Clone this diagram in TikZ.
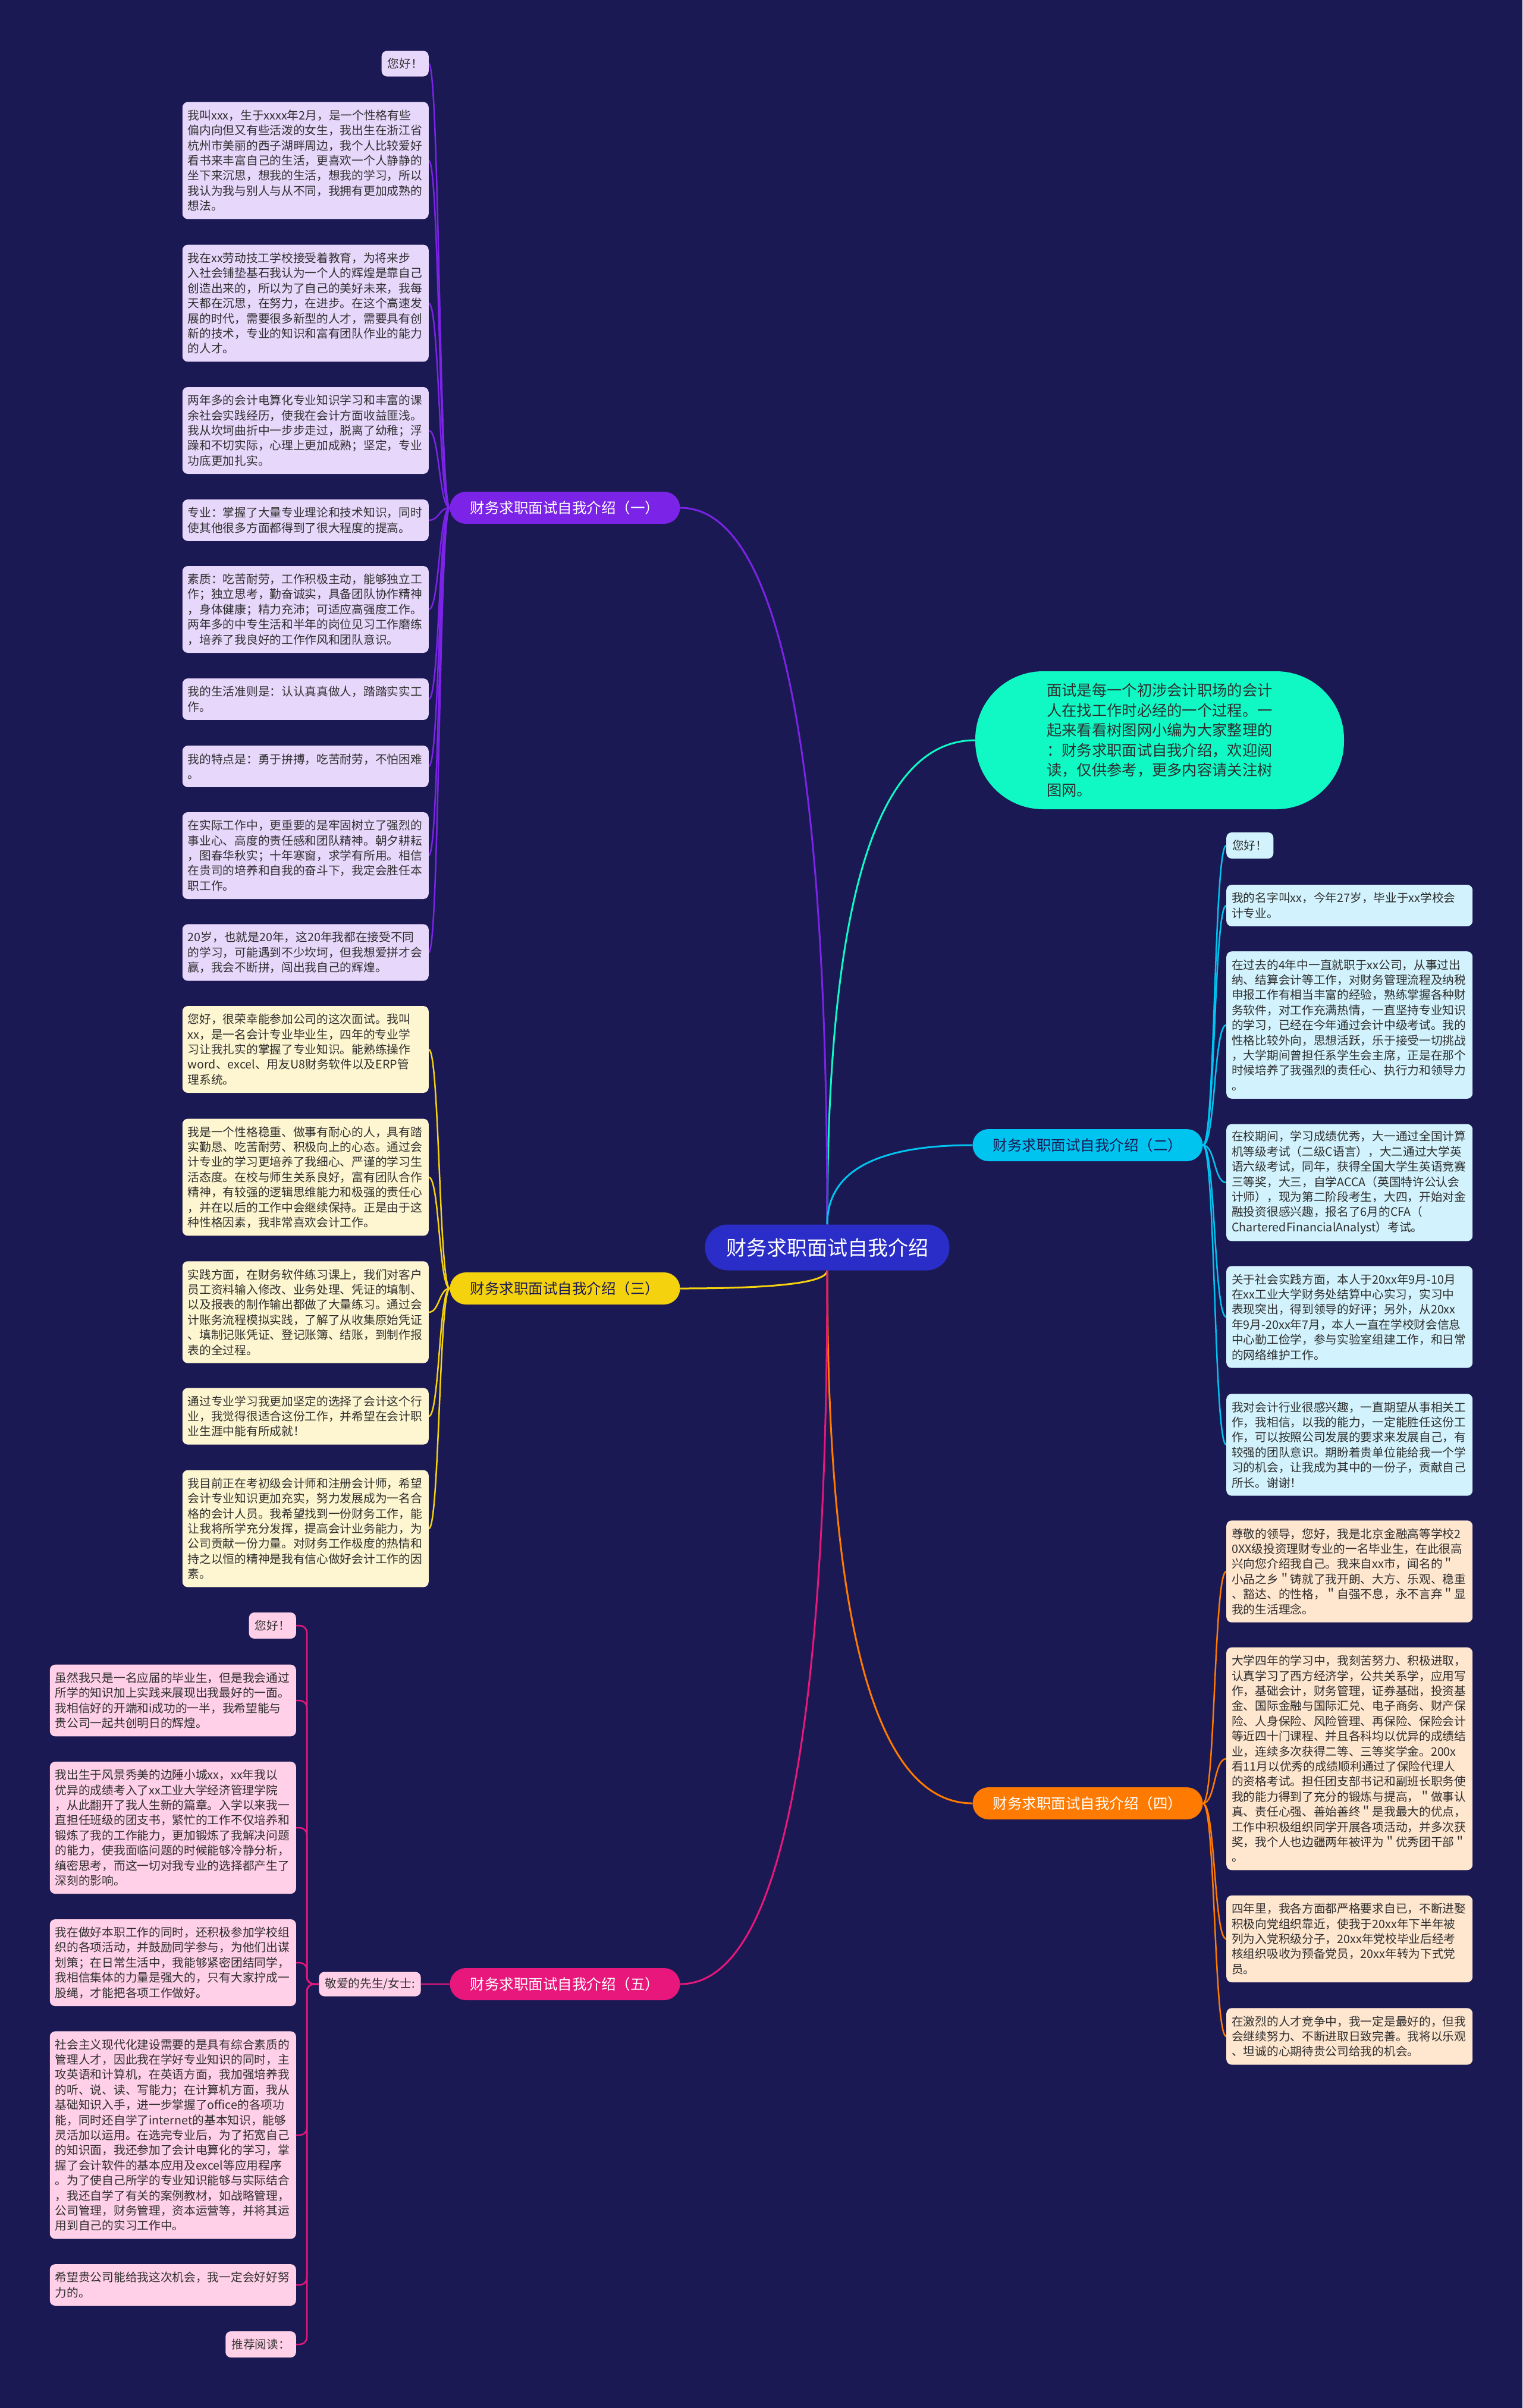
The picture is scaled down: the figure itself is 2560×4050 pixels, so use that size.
\documentclass[tikz,border=0pt]{standalone}
\usepackage{fontspec}
\setmainfont{Noto Sans CJK SC}
\usetikzlibrary{calc}
\pgfdeclarelayer{bgl}
\pgfdeclarelayer{lnl}
\pgfsetlayers{bgl,lnl,main}
\definecolor{bgc}{HTML}{1B1953}
\definecolor{ctrc}{HTML}{2A2DC8}
\definecolor{introc}{HTML}{10F9C5}
\definecolor{ca}{HTML}{7B23E6}
\definecolor{la}{HTML}{E7D7FB}
\definecolor{cb}{HTML}{00C4F0}
\definecolor{lb}{HTML}{D2F3FD}
\definecolor{cc}{HTML}{F5D20E}
\definecolor{lc}{HTML}{FEF6D0}
\definecolor{cd}{HTML}{FF7A00}
\definecolor{ld}{HTML}{FFE6CF}
\definecolor{ce}{HTML}{E8177B}
\definecolor{le}{HTML}{FFD0E7}
\definecolor{txt}{HTML}{2E2E2E}
\definecolor{darktxt}{HTML}{1B1953}
\newcommand\lfnt{\fontsize{19.7}{25.4}\selectfont}
\newcommand\bfnt{\fontsize{24.5}{30}\selectfont}
\newcommand\cfnt{\fontsize{34}{40}\selectfont}
\newcommand\ifnt{\fontsize{25.3}{33.5}\selectfont}
\begin{document}
\begin{tikzpicture}[x=1pt,y=-1pt,
  leafbase/.style={rectangle, rounded corners=9, inner xsep=10, inner ysep=3, font=\lfnt, text=txt},
  leaf/.style={leafbase, inner xsep=9, align=left, text width=396},
  nl/.style={minimum height={#1*25.4+19}},
  hi/.style={leafbase, minimum height=43},
  br/.style={rectangle, rounded corners=27, minimum width=387, minimum height=54, inner sep=0, font=\bfnt},
  mline/.style={line width=3},
  lline/.style={line width=2.5}]
\begin{pgfonlayer}{bgl}
\fill[bgc] (0,0) rectangle (2560,4050);
\end{pgfonlayer}
\useasboundingbox (0,0) rectangle (2560,4050);

% center and intro
\node[rectangle, rounded corners=38, fill=ctrc, text=white, font=\cfnt, minimum width=411, minimum height=77, inner sep=0] (ctr) at (1391,2098) {财务求职面试自我介绍};
\node[rectangle, rounded corners=114, fill=introc, text=txt, font=\ifnt, minimum width=620, minimum height=232, inner sep=0, align=left] (intro) at (1950,1245) {面试是每一个初涉会计职场的会计\\人在找工作时必经的一个过程。一\\起来看看树图网小编为大家整理的\\：财务求职面试自我介绍，欢迎阅\\读，仅供参考，更多内容请关注树\\图网。};

% branches
\node[br, fill=ca, text=white] (b1) at (950,854) {财务求职面试自我介绍（一）};
\node[br, fill=cb, text=darktxt] (b2) at (1829,1926) {财务求职面试自我介绍（二）};
\node[br, fill=cc, text=darktxt] (b3) at (950,2167) {财务求职面试自我介绍（三）};
\node[br, fill=cd, text=white] (b4) at (1829,3033) {财务求职面试自我介绍（四）};
\node[br, fill=ce, text=white] (b5) at (950,3337) {财务求职面试自我介绍（五）};
\node[hi, fill=le, minimum height=41] (dear) at (622,3337) {敬爱的先生/女士:};

% branch 1 leaves
\node[hi, fill=la, anchor=east] (p1) at (721,107) {您好！};
\node[leaf, fill=la, nl=7, anchor=east] (p2) at (721,270) {我叫xxx，生于xxxx年2月，是一个性格有些\\偏内向但又有些活泼的女生，我出生在浙江省\\杭州市美丽的西子湖畔周边，我个人比较爱好\\看书来丰富自己的生活，更喜欢一个人静静的\\坐下来沉思，想我的生活，想我的学习，所以\\我认为我与别人与从不同，我拥有更加成熟的\\想法。};
\node[leaf, fill=la, nl=7, anchor=east] (p3) at (721,510) {我在xx劳动技工学校接受着教育，为将来步\\入社会铺垫基石我认为一个人的辉煌是靠自己\\创造出来的，所以为了自己的美好未来，我每\\天都在沉思，在努力，在进步。在这个高速发\\展的时代，需要很多新型的人才，需要具有创\\新的技术，专业的知识和富有团队作业的能力\\的人才。};
\node[leaf, fill=la, nl=5, anchor=east] (p4) at (721,724) {两年多的会计电算化专业知识学习和丰富的课\\余社会实践经历，使我在会计方面收益匪浅。\\我从坎坷曲折中一步步走过，脱离了幼稚；浮\\躁和不切实际，心理上更加成熟；坚定，专业\\功底更加扎实。};
\node[leaf, fill=la, nl=2, anchor=east] (p5) at (721,875) {专业：掌握了大量专业理论和技术知识，同时\\使其他很多方面都得到了很大程度的提高。};
\node[leaf, fill=la, nl=5, anchor=east] (p6) at (721,1025) {素质：吃苦耐劳，工作积极主动，能够独立工\\作；独立思考，勤奋诚实，具备团队协作精神\\，身体健康；精力充沛；可适应高强度工作。\\两年多的中专生活和半年的岗位见习工作磨练\\，培养了我良好的工作作风和团队意识。};
\node[leaf, fill=la, nl=2, anchor=east] (p7) at (721,1176) {我的生活准则是：认认真真做人，踏踏实实工\\作。};
\node[leaf, fill=la, nl=2, anchor=east] (p8) at (721,1289) {我的特点是：勇于拚搏，吃苦耐劳，不怕困难\\。};
\node[leaf, fill=la, nl=5, anchor=east] (p9) at (721,1439) {在实际工作中，更重要的是牢固树立了强烈的\\事业心、高度的责任感和团队精神。朝夕耕耘\\，图春华秋实；十年寒窗，求学有所用。相信\\在贵司的培养和自我的奋斗下，我定会胜任本\\职工作。};
\node[leaf, fill=la, nl=3, anchor=east] (p10) at (721,1602) {20岁，也就是20年，这20年我都在接受不同\\的学习，可能遇到不少坎坷，但我想爱拼才会\\赢，我会不断拼，闯出我自己的辉煌。};

% branch 3 leaves
\node[leaf, fill=lc, nl=5, anchor=east] (y1) at (721,1765) {您好，很荣幸能参加公司的这次面试。我叫\\xx，是一名会计专业毕业生，四年的专业学\\习让我扎实的掌握了专业知识。能熟练操作\\word、excel、用友U8财务软件以及ERP管\\理系统。};
\node[leaf, fill=lc, nl=7, anchor=east] (y2) at (721,1980) {我是一个性格稳重、做事有耐心的人，具有踏\\实勤恳、吃苦耐劳、积极向上的心态。通过会\\计专业的学习更培养了我细心、严谨的学习生\\活态度。在校与师生关系良好，富有团队合作\\精神，有较强的逻辑思维能力和极强的责任心\\，并在以后的工作中会继续保持。正是由于这\\种性格因素，我非常喜欢会计工作。};
\node[leaf, fill=lc, nl=6, anchor=east] (y3) at (721,2207) {实践方面，在财务软件练习课上，我们对客户\\员工资料输入修改、业务处理、凭证的填制、\\以及报表的制作输出都做了大量练习。通过会\\计账务流程模拟实践，了解了从收集原始凭证\\、填制记账凭证、登记账簿、结账，到制作报\\表的全过程。};
\node[leaf, fill=lc, nl=3, anchor=east] (y4) at (721,2382) {通过专业学习我更加坚定的选择了会计这个行\\业，我觉得很适合这份工作，并希望在会计职\\业生涯中能有所成就！};
\node[leaf, fill=lc, nl=7, anchor=east] (y5) at (721,2571) {我目前正在考初级会计师和注册会计师，希望\\会计专业知识更加充实，努力发展成为一名合\\格的会计人员。我希望找到一份财务工作，能\\让我将所学充分发挥，提高会计业务能力，为\\公司贡献一份力量。对财务工作极度的热情和\\持之以恒的精神是我有信心做好会计工作的因\\素。};

% branch 5 leaves
\node[hi, fill=le, anchor=east, minimum height=44] (m1) at (498,2734) {您好！};
\node[leaf, fill=le, nl=4, anchor=east] (m2) at (498,2860) {虽然我只是一名应届的毕业生，但是我会通过\\所学的知识加上实践来展现出我最好的一面。\\我相信好的开端和i成功的一半，我希望能与\\贵公司一起共创明日的辉煌。};
\node[leaf, fill=le, nl=8, anchor=east] (m3) at (498,3074) {我出生于风景秀美的边陲小城xx，xx年我以\\优异的成绩考入了xx工业大学经济管理学院\\，从此翻开了我人生新的篇章。入学以来我一\\直担任班级的团支书，繁忙的工作不仅培养和\\锻炼了我的工作能力，更加锻炼了我解决问题\\的能力，使我面临问题的时候能够冷静分析，\\缜密思考，而这一切对我专业的选择都产生了\\深刻的影响。};
\node[leaf, fill=le, nl=5, anchor=east] (m4) at (498,3301) {我在做好本职工作的同时，还积极参加学校组\\织的各项活动，并鼓励同学参与，为他们出谋\\划策；在日常生活中，我能够紧密团结同学，\\我相信集体的力量是强大的，只有大家拧成一\\股绳，才能把各项工作做好。};
\node[leaf, fill=le, nl=13, anchor=east] (m5) at (498,3591) {社会主义现代化建设需要的是具有综合素质的\\管理人才，因此我在学好专业知识的同时，主\\攻英语和计算机，在英语方面，我加强培养我\\的听、说、读、写能力；在计算机方面，我从\\基础知识入手，进一步掌握了office的各项功\\能，同时还自学了internet的基本知识，能够\\灵活加以运用。在选完专业后，为了拓宽自己\\的知识面，我还参加了会计电算化的学习，掌\\握了会计软件的基本应用及excel等应用程序\\。为了使自己所学的专业知识能够与实际结合\\，我还自学了有关的案例教材，如战略管理，\\公司管理，财务管理，资本运营等，并将其运\\用到自己的实习工作中。};
\node[leaf, fill=le, nl=2, anchor=east] (m6) at (498,3843) {希望贵公司能给我这次机会，我一定会好好努\\力的。};
\node[hi, fill=le, anchor=east, minimum height=44] (m7) at (498,3943) {推荐阅读：};

% branch 2 leaves
\node[hi, fill=lb, anchor=west, minimum height=44] (c1) at (2062,1422) {您好！};
\node[leaf, fill=lb, nl=2, anchor=west] (c2) at (2062,1523) {我的名字叫xx，今年27岁，毕业于xx学校会\\计专业。};
\node[leaf, fill=lb, nl=9, anchor=west] (c3) at (2062,1724) {在过去的4年中一直就职于xx公司，从事过出\\纳、结算会计等工作，对财务管理流程及纳税\\申报工作有相当丰富的经验，熟练掌握各种财\\务软件，对工作充满热情，一直坚持专业知识\\的学习，已经在今年通过会计中级考试。我的\\性格比较外向，思想活跃，乐于接受一切挑战\\，大学期间曾担任系学生会主席，正是在那个\\时候培养了我强烈的责任心、执行力和领导力\\。};
\node[leaf, fill=lb, nl=7, anchor=west] (c4) at (2062,1989) {在校期间，学习成绩优秀，大一通过全国计算\\机等级考试（二级C语言），大二通过大学英\\语六级考试，同年，获得全国大学生英语竞赛\\三等奖，大三，自学ACCA（英国特许公认会\\计师），现为第二阶段考生，大四，开始对金\\融投资很感兴趣，报名了6月的CFA（\\CharteredFinancialAnalyst）考试。};
\node[leaf, fill=lb, nl=6, anchor=west] (c5) at (2062,2215) {关于社会实践方面，本人于20xx年9月-10月\\在xx工业大学财务处结算中心实习，实习中\\表现突出，得到领导的好评；另外，从20xx\\年9月-20xx年7月，本人一直在学校财会信息\\中心勤工俭学，参与实验室组建工作，和日常\\的网络维护工作。};
\node[leaf, fill=lb, nl=6, anchor=west] (c6) at (2062,2430) {我对会计行业很感兴趣，一直期望从事相关工\\作，我相信，以我的能力，一定能胜任这份工\\作，可以按照公司发展的要求来发展自己，有\\较强的团队意识。期盼着贵单位能给我一个学\\习的机会，让我成为其中的一份子，贡献自己\\所长。谢谢！};

% branch 4 leaves
\node[leaf, fill=ld, nl=6, anchor=west] (o1) at (2062,2643) {尊敬的领导，您好，我是北京金融高等学校2\\0XX级投资理财专业的一名毕业生，在此很高\\兴向您介绍我自己。我来自xx市，闻名的＂\\小品之乡＂铸就了我开朗、大方、乐观、稳重\\、豁达、的性格，＂自强不息，永不言弃＂显\\我的生活理念。};
\node[leaf, fill=ld, nl=14, anchor=west] (o2) at (2062,2958) {大学四年的学习中，我刻苦努力、积极进取，\\认真学习了西方经济学，公共关系学，应用写\\作，基础会计，财务管理，证券基础，投资基\\金、国际金融与国际汇兑、电子商务、财产保\\险、人身保险、风险管理、再保险、保险会计\\等近四十门课程、并且各科均以优异的成绩结\\业，连续多次获得二等、三等奖学金。200x\\看11月以优秀的成绩顺利通过了保险代理人\\的资格考试。担任团支部书记和副班长职务使\\我的能力得到了充分的锻炼与提高，＂做事认\\真、责任心强、善始善终＂是我最大的优点，\\工作中积极组织同学开展各项活动，并多次获\\奖，我个人也边疆两年被评为＂优秀团干部＂\\。};
\node[leaf, fill=ld, nl=5, anchor=west] (o3) at (2062,3261) {四年里，我各方面都严格要求自已，不断进娶\\积极向党组织靠近，使我于20xx年下半年被\\列为入党积级分子，20xx年党校毕业后经考\\核组织吸收为预备党员，20xx年转为下式党\\员。};
\node[leaf, fill=ld, nl=3, anchor=west] (o4) at (2062,3425) {在激烈的人才竞争中，我一定是最好的，但我\\会继续努力、不断进取日致完善。我将以乐观\\、坦诚的心期待贵公司给我的机会。};

\coordinate (sp) at (516,3337);

\begin{pgfonlayer}{lnl}
% main connectors (quadratic-like curves)
\coordinate (kI) at (ctr.north |- intro.west);
\coordinate (k1) at (ctr.north |- b1.east);
\coordinate (k2) at (ctr.north |- b2.west);
\coordinate (k3) at (ctr.south |- b3.east);
\coordinate (k4) at (ctr.south |- b4.west);
\coordinate (k5) at (ctr.south |- b5.east);
\draw[mline, introc] (ctr.north) .. controls ($(ctr.north)!0.6667!(kI)$) and ($(intro.west)!0.6667!(kI)$) .. (intro.west);
\draw[mline, ca] (ctr.north) .. controls ($(ctr.north)!0.6667!(k1)$) and ($(b1.east)!0.6667!(k1)$) .. (b1.east);
\draw[mline, cb] (ctr.north) .. controls ($(ctr.north)!0.6667!(k2)$) and ($(b2.west)!0.6667!(k2)$) .. (b2.west);
\draw[mline, cc] (ctr.south) .. controls ($(ctr.south)!0.6667!(k3)$) and ($(b3.east)!0.6667!(k3)$) .. (b3.east);
\draw[mline, cd] (ctr.south) .. controls ($(ctr.south)!0.6667!(k4)$) and ($(b4.west)!0.6667!(k4)$) .. (b4.west);
\draw[mline, ce] (ctr.south) .. controls ($(ctr.south)!0.6667!(k5)$) and ($(b5.east)!0.6667!(k5)$) .. (b5.east);
% branch 1
\foreach \n in {p1,p2,p3,p4,p5,p6,p7,p8,p9,p10}
  \draw[lline, ca] (\n.east) .. controls +(18,0) and +(-18,0) .. (b1.west);
% branch 3
\foreach \n in {y1,y2,y3,y4,y5}
  \draw[lline, cc] (\n.east) .. controls +(18,0) and +(-18,0) .. (b3.west);
% branch 2
\foreach \n in {c1,c2,c3,c4,c5,c6}
  \draw[lline, cb] (b2.east) .. controls +(21,0) and +(-21,0) .. (\n.west);
% branch 4
\foreach \n in {o1,o2,o3,o4}
  \draw[lline, cd] (b4.east) .. controls +(21,0) and +(-21,0) .. (\n.west);
% branch 5
\draw[lline, ce] (b5.west) -- (dear.east);
\foreach \n in {m1,m2,m3,m4,m5,m6,m7}
  \draw[lline, ce, rounded corners=12] (\n.east) -| (sp) -- (dear.west);
\end{pgfonlayer}
\end{tikzpicture}
\end{document}
